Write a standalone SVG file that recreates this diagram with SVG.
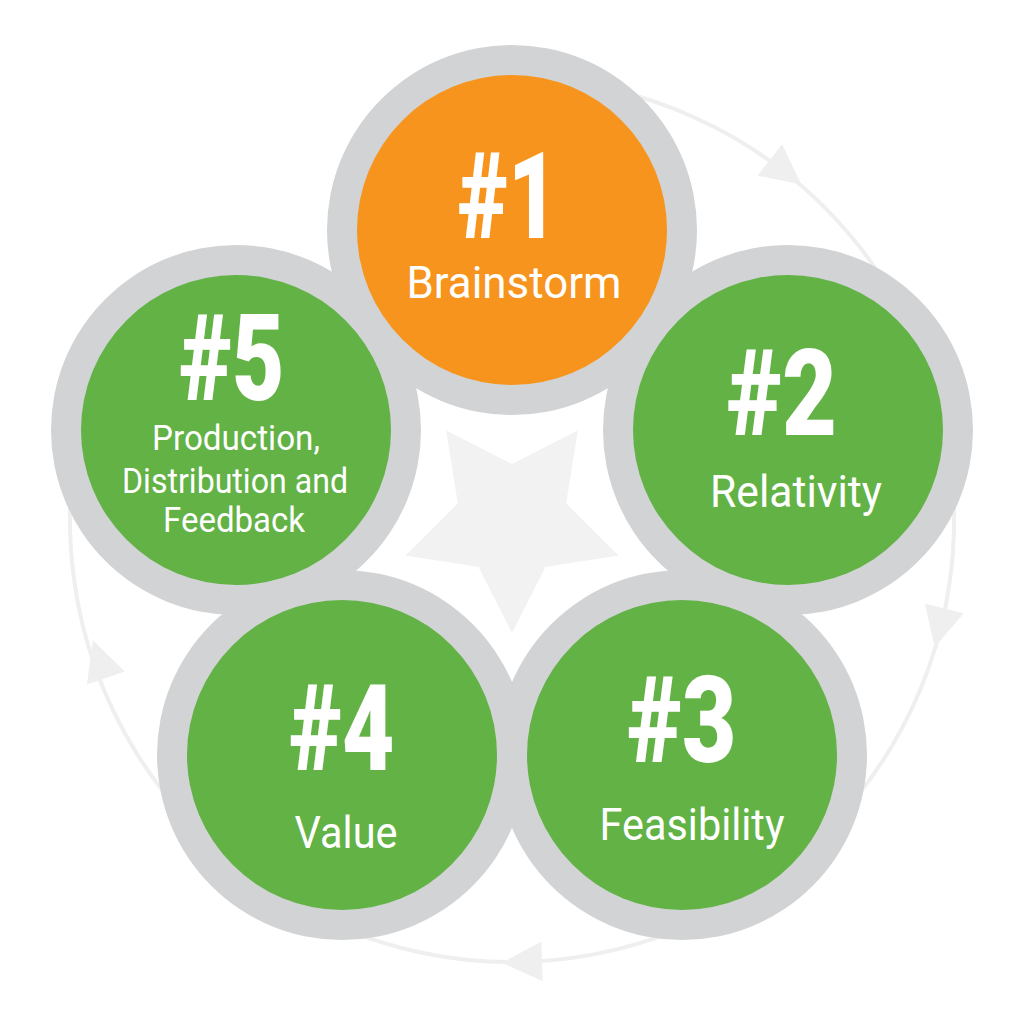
<svg xmlns="http://www.w3.org/2000/svg" width="1024" height="1024" viewBox="0 0 1024 1024">
  <style>
    .ring { fill: #d1d3d4; }
    .green { fill: #62b246; }
    .orange { fill: #f7941d; }
    .num { font-family: Roboto, "Liberation Sans", sans-serif; font-weight: 900; font-size: 120px; fill: #ffffff; text-anchor: middle; }
    .lbl { font-family: Roboto, "Liberation Sans", sans-serif; font-size: 45px; fill: #ffffff; text-anchor: middle; }
    .sm { font-family: Roboto, "Liberation Sans", sans-serif; font-size: 35px; fill: #ffffff; text-anchor: middle; }
    .faint { fill: none; stroke: #efefef; stroke-width: 4; }
    .head { fill: #efefef; }
  </style>
  <defs>
    <polygon id="arrowhead" points="22,0 -18,-20 -18,20"/>
  </defs>
  <rect width="1024" height="1024" fill="#ffffff"/>

  <g id="connectors">
    <path class="faint" d="M 550.5 79.7 A 442 442 0 1 1 85 406"/>
    <use href="#arrowhead" class="head" transform="translate(784,171) rotate(38)"/>
    <use href="#arrowhead" class="head" transform="translate(940,626) rotate(104)"/>
    <use href="#arrowhead" class="head" transform="translate(524,962) rotate(178)"/>
    <use href="#arrowhead" class="head" transform="translate(100,661) rotate(251)"/>
  </g>

  <polygon id="star" fill="#f2f2f2" points="512,464 577.8,430.4 566.2,503.4 618.5,555.6 545.5,567.1 512,633 478.5,567.1 405.5,555.6 457.8,503.4 446.2,430.4"/>

  <g id="node1">
    <circle class="ring" cx="512" cy="230" r="185"/>
    <circle class="orange" cx="512" cy="230" r="155"/>
    <text class="num" x="508" y="238" textLength="100" lengthAdjust="spacingAndGlyphs">#1</text>
    <text class="lbl" x="514" y="298" textLength="215" lengthAdjust="spacingAndGlyphs">Brainstorm</text>
  </g>
  <g id="node2">
    <circle class="ring" cx="788" cy="430" r="185"/>
    <circle class="green" cx="788" cy="430" r="155"/>
    <text class="num" x="782" y="435" textLength="110" lengthAdjust="spacingAndGlyphs">#2</text>
    <text class="lbl" x="796" y="507" textLength="172" lengthAdjust="spacingAndGlyphs">Relativity</text>
  </g>
  <g id="node3">
    <circle class="ring" cx="682" cy="755" r="185"/>
    <circle class="green" cx="682" cy="755" r="155"/>
    <text class="num" x="682" y="762" textLength="109" lengthAdjust="spacingAndGlyphs">#3</text>
    <text class="lbl" x="692" y="840" textLength="185" lengthAdjust="spacingAndGlyphs">Feasibility</text>
  </g>
  <g id="node4">
    <circle class="ring" cx="342" cy="755" r="185"/>
    <circle class="green" cx="342" cy="755" r="155"/>
    <text class="num" x="342" y="770" textLength="105" lengthAdjust="spacingAndGlyphs">#4</text>
    <text class="lbl" x="346" y="848" textLength="103" lengthAdjust="spacingAndGlyphs">Value</text>
  </g>
  <g id="node5">
    <circle class="ring" cx="236" cy="430" r="185"/>
    <circle class="green" cx="236" cy="430" r="155"/>
    <text class="num" x="232" y="400" textLength="105" lengthAdjust="spacingAndGlyphs">#5</text>
    <text class="sm" x="236" y="450" textLength="168" lengthAdjust="spacingAndGlyphs">Production,</text>
    <text class="sm" x="235" y="493" textLength="226" lengthAdjust="spacingAndGlyphs">Distribution and</text>
    <text class="sm" x="234" y="532" textLength="142" lengthAdjust="spacingAndGlyphs">Feedback</text>
  </g>
</svg>
